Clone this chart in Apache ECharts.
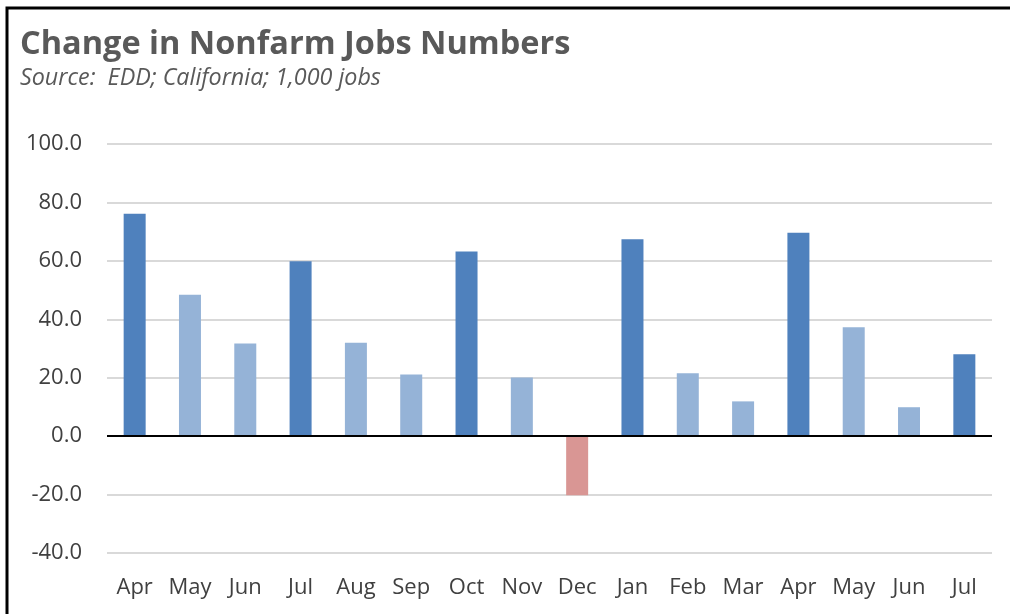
<!DOCTYPE html>
<html lang="en">
<head>
    <meta charset="UTF-8">
    <title>Change in Nonfarm Jobs Numbers</title>
    <style>
        html, body {
            margin: 0;
            padding: 0;
            background: #fff;
        }

        #chart {
            width: 1010px;
            height: 614px;
        }
    </style>
</head>
<body>
<div id="chart"></div>
<script src="https://cdn.jsdelivr.net/npm/echarts@6/dist/echarts.min.js"></script>
<script>
    // months, 1,000 jobs
    var months = ['Apr', 'May', 'Jun', 'Jul', 'Aug', 'Sep', 'Oct', 'Nov', 'Dec', 'Jan', 'Feb', 'Mar', 'Apr', 'May', 'Jun', 'Jul'];
    var jobChange = [76.1, 48.4, 31.7, 59.9, 32.0, 21.1, 63.2, 20.1, -20.2, 67.4, 21.5, 11.9, 69.6, 37.3, 9.9, 28.0];
    // quarter-end months drawn darker
    var quarterEnd = [true, false, false, true, false, false, true, false, false, true, false, false, true, false, false, true];

    var dark = '#4f81bd', light = '#95b3d7', neg = '#d99694';
    var font = '"Open Sans", "Noto Sans", sans-serif';

    var data = jobChange.map(function (v, i) {
        var c = v < 0 ? neg : (quarterEnd[i] ? dark : light);
        return {value: v, itemStyle: {color: c}};
    });

    var option = {
        animation: false,
        title: {
            text: 'Change in Nonfarm Jobs Numbers',
            subtext: 'Source:  EDD; California; 1,000 jobs',
            left: 15,
            top: 23,
            itemGap: 6,
            textStyle: {
                fontFamily: font,
                fontSize: 32.5,
                fontWeight: 'bold',
                color: '#595959'
            },
            subtextStyle: {
                fontFamily: font,
                fontSize: 23.3,
                fontStyle: 'italic',
                color: '#595959'
            }
        },
        grid: {
            left: 107,
            right: 18,
            top: 144,
            bottom: 61
        },
        xAxis: {
            type: 'category',
            data: months,
            axisLine: {show: false},
            axisTick: {show: false},
            axisLabel: {
                interval: 0,
                margin: 24,
                fontFamily: font,
                fontSize: 22,
                color: '#404040'
            }
        },
        yAxis: {
            type: 'value',
            min: -40,
            max: 100,
            interval: 20,
            axisLine: {show: false},
            axisTick: {show: false},
            splitLine: {
                lineStyle: {color: '#d9d9d9', width: 2}
            },
            axisLabel: {
                margin: 25,
                fontFamily: font,
                fontSize: 22,
                color: '#404040',
                formatter: function (v) {
                    return v.toFixed(1);
                }
            }
        },
        series: [
            {
                type: 'bar',
                barWidth: 22,
                data: data,
                markLine: {
                    silent: true,
                    symbol: 'none',
                    label: {show: false},
                    lineStyle: {color: '#000', type: 'solid', width: 2},
                    data: [{yAxis: 0}]
                }
            }
        ],
        graphic: [
            {
                type: 'polyline',
                shape: {points: [[7, 614], [7, 8], [1010, 8]]},
                style: {stroke: '#000', lineWidth: 3, fill: null}
            }
        ]
    };

    var myChart = echarts.init(document.getElementById('chart'));
    myChart.setOption(option);
</script>
</body>
</html>
